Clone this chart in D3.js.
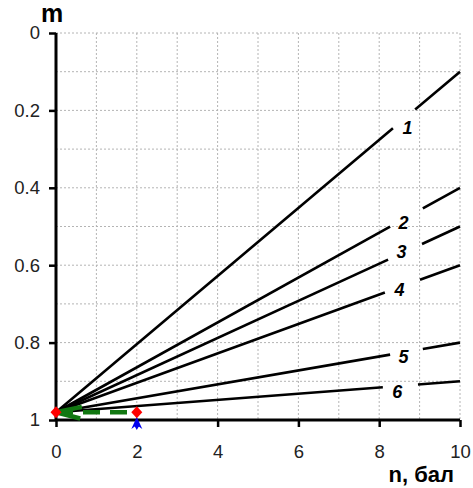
<!DOCTYPE html>
<html><head><meta charset="utf-8">
<script src="https://cdn.jsdelivr.net/npm/d3@7/dist/d3.min.js"></script>
<style>
html,body{margin:0;padding:0;background:#fff;}
svg{display:block;font-family:"Liberation Sans",Arial,sans-serif;}
</style></head>
<body><svg id="c" width="473" height="488"></svg>
<script>
// ---- data ----
const xTicks = [0, 2, 4, 6, 8, 10];
const yTicks = [0, 0.2, 0.4, 0.6, 0.8, 1];
const xGrid = [1, 2, 3, 4, 5, 6, 7, 8, 9, 10];
const yGrid = [0, 0.1, 0.2, 0.3, 0.4, 0.5, 0.6, 0.7, 0.8, 0.9];
const seriesNames = ["1", "2", "3", "4", "5", "6"];
const startN = 0, startM = 0.98, endN = 10;
const endM = [0.1, 0.4, 0.5, 0.6, 0.8, 0.9];
const gapStart = [8.34, 8.27, 8.22, 8.14, 8.27, 8.09];
const gapEnd = [8.89, 9.08, 9.06, 9.01, 9.08, 8.96];
const labelN = [8.7, 8.6, 8.55, 8.5, 8.6, 8.45];
const labelM = [0.245, 0.491, 0.566, 0.664, 0.837, 0.928];
const redPoints = [[0, 0.98], [2, 0.98]];
const bluePoint = [2, 1.0];
const greenDash = [[0, 0.98], [2, 0.98]];
const greenArrow = [[[0, 0.98], [0.64, 0.966]], [[0, 0.98], [0.6, 0.996]]];

// ---- chart ----
const svg = d3.select("#c");
const x = d3.scaleLinear().domain([0, 10]).range([56, 460]);
const y = d3.scaleLinear().domain([0, 1]).range([33, 420]);
const mAt = i => n => startM + (endM[i] - startM) * (n - startN) / (endN - startN);

// grid
svg.append("g").selectAll("line").data(xGrid).join("line")
  .attr("x1", d => x(d)).attr("x2", d => x(d)).attr("y1", y(0)).attr("y2", y(1))
  .attr("stroke", "#b4b4b4").attr("stroke-width", 1).attr("stroke-dasharray", "2,2");
svg.append("g").selectAll("line").data(yGrid).join("line")
  .attr("x1", x(0)).attr("x2", x(10)).attr("y1", d => y(d)).attr("y2", d => y(d))
  .attr("stroke", "#b4b4b4").attr("stroke-width", 1).attr("stroke-dasharray", "2,2");

// black lines with gaps
const line = d3.line().x(d => x(d[0])).y(d => y(d[1]));
seriesNames.forEach((name, i) => {
  const f = mAt(i);
  const segs = [[[startN, startM], [gapStart[i], f(gapStart[i])]],
                [[gapEnd[i], f(gapEnd[i])], [endN, endM[i]]]];
  svg.append("g").selectAll("path").data(segs).join("path")
    .attr("d", line).attr("fill", "none").attr("stroke", "#000").attr("stroke-width", 2.6);
  svg.append("text").attr("x", x(labelN[i])).attr("y", y(labelM[i]))
    .attr("text-anchor", "middle").attr("dominant-baseline", "central")
    .attr("font-size", 18).attr("font-weight", "bold").attr("font-style", "italic")
    .text(name);
});

// axes
const yAxis = d3.axisLeft(y).tickValues(yTicks).tickSize(7).tickPadding(9)
  .tickFormat(d => d3.format("")(d));
const gy = svg.append("g").attr("transform", `translate(${x(0)},0)`).call(yAxis);
const xAxis = d3.axisBottom(x).tickValues(xTicks).tickSize(7).tickPadding(18);
const gx = svg.append("g").attr("transform", `translate(0,${y(1)})`).call(xAxis);
[gx, gy].forEach(g => {
  g.select(".domain").attr("stroke", "#000").attr("stroke-width", 3);
  g.selectAll(".tick line").attr("stroke", "#000").attr("stroke-width", 2.5);
  g.selectAll(".tick text").attr("font-size", 18.5).attr("fill", "#222")
    .attr("font-family", "'Liberation Sans',Arial,sans-serif");
});
gx.select(".domain").attr("d", `M${x(0)},0H${x(10)}`);
gy.select(".domain").attr("d", `M0,${y(0)}V${y(1)}`);

// green dashed / arrow
svg.append("path").datum(greenDash).attr("d", line).attr("fill", "none")
  .attr("stroke", "#117711").attr("stroke-width", 4.5).attr("stroke-dasharray", "17,10");
svg.append("g").selectAll("path").data(greenArrow).join("path").attr("d", line)
  .attr("fill", "none").attr("stroke", "#117711").attr("stroke-width", 4.5);

// markers
svg.append("path")
  .attr("transform", `translate(${x(bluePoint[0])},${y(bluePoint[1]) + 3})`)
  .attr("d", "M0,-6 L5.5,6 L2,3.5 L0,7 L-2,3.5 L-5.5,6 Z")
  .attr("fill", "#0000ee");
svg.append("g").selectAll("path").data(redPoints).join("path")
  .attr("transform", d => `translate(${x(d[0])},${y(d[1])})`)
  .attr("d", "M0,-6 L5.5,0 L0,6 L-5.5,0 Z").attr("fill", "#ff0000");

// titles
svg.append("text").attr("x", 52).attr("y", 22).attr("text-anchor", "middle")
  .attr("font-size", 25).attr("font-weight", "bold").text("m");
svg.append("text").attr("x", 454).attr("y", 482).attr("text-anchor", "end")
  .attr("font-size", 22).attr("font-weight", "bold").text("n, бал");
</script></body></html>
